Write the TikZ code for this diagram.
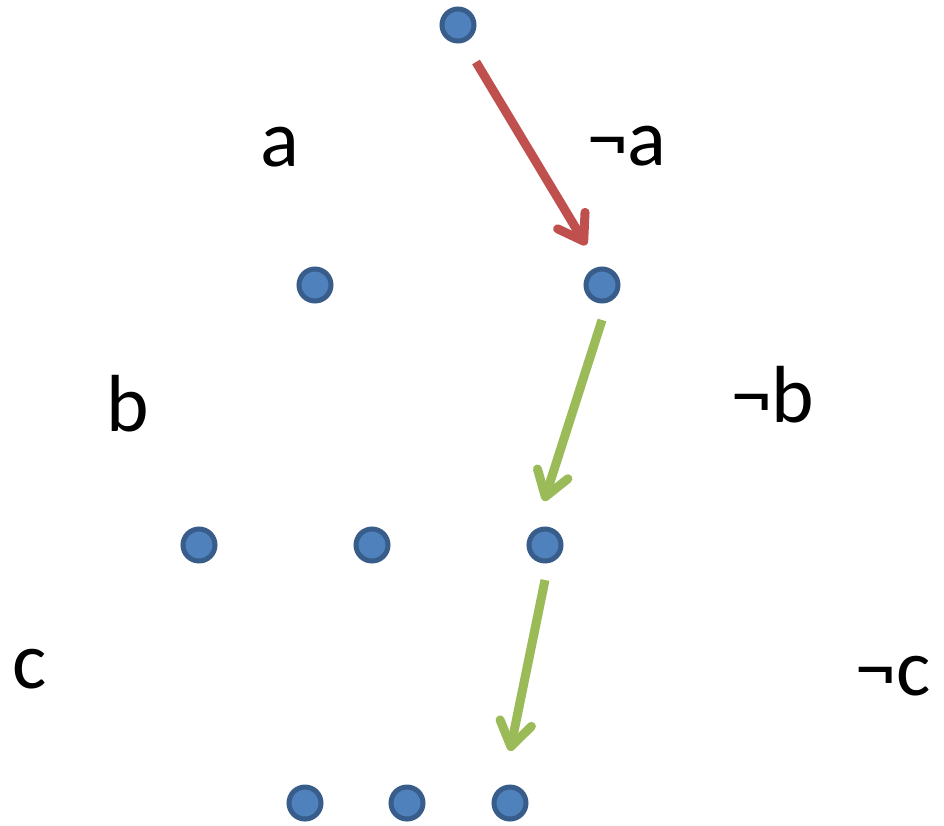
\documentclass[tikz,border=0pt]{standalone}
\usepackage{fontspec}
\setmainfont{Carlito}
\usetikzlibrary{arrows.meta}
\definecolor{dotfill}{HTML}{4F81BD}
\definecolor{dotline}{HTML}{385D8A}
\definecolor{redarrow}{HTML}{C0504D}
\definecolor{greenarrow}{HTML}{9BBB59}
\tikzset{
  dot/.style={circle, fill=dotfill, draw=dotline, line width=5pt, minimum size=32pt, inner sep=0pt},
  lbl/.style={anchor=base, inner sep=0pt, font=\fontsize{81}{96}\selectfont},
  arr/.style={line width=9pt, -{Straight Barb[length=24pt,width=32pt,round]}},
}
\begin{document}
\begin{tikzpicture}[x=1pt,y=-1pt]
\useasboundingbox (0,0) rectangle (944,825);
% dots
\node[dot] (n0) at (458,25) {};
\node[dot] (n1) at (315,285) {};
\node[dot] (n2) at (602,285) {};
\node[dot] (n3) at (199,545) {};
\node[dot] (n4) at (372,545) {};
\node[dot] (n5) at (545,545) {};
\node[dot] (n6) at (305,803) {};
\node[dot] (n7) at (407,803) {};
\node[dot] (n8) at (510,803) {};
% labels
\node[lbl] (la) at (280,166) {a};
\node[lbl] (lna) at (627,165) {¬a};
\node[lbl] (lb) at (128,431) {b};
\node[lbl] (lnb) at (773,422) {¬b};
\node[lbl] (lc) at (30,688) {c};
\node[lbl] (lnc) at (893,695) {¬c};
% arrow ends
\coordinate (r1) at (476,62);
\coordinate (r2) at (586,245);
\coordinate (g1) at (602,320);
\coordinate (g2) at (544,501);
\coordinate (g3) at (545,580);
\coordinate (g4) at (510,751);
\draw[arr, redarrow] (r1) -- (r2);
\draw[arr, greenarrow] (g1) -- (g2);
\draw[arr, greenarrow] (g3) -- (g4);
\end{tikzpicture}
\end{document}
